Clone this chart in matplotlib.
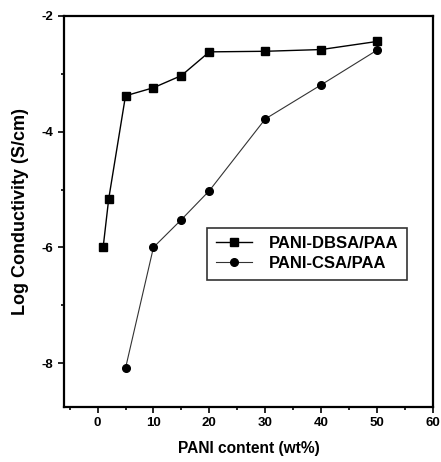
import numpy as np
import matplotlib.pyplot as plt
from matplotlib.ticker import MultipleLocator

# PANI content (wt%) and log conductivity
dbsa_x = [1, 2, 5, 10, 15, 20, 30, 40, 50]
dbsa_y = [-6.0, -5.16, -3.38, -3.24, -3.03, -2.62, -2.61, -2.58, -2.44]
csa_x = [5, 10, 15, 20, 30, 40, 50]
csa_y = [-8.09, -6.0, -5.52, -5.02, -3.78, -3.19, -2.59]

plt.rcParams['font.family'] = ['Liberation Sans', 'DejaVu Sans']
plt.rcParams['font.weight'] = 'bold'
plt.rcParams['axes.unicode_minus'] = False

fig = plt.figure(figsize=(4.41, 4.62), dpi=100)
ax = fig.add_axes([64 / 441, 55 / 462, 369 / 441, 391 / 462])

ax.plot(dbsa_x, dbsa_y, color='black', lw=1.0, marker='s', ms=5.5,
        label='PANI-DBSA/PAA')
ax.plot(csa_x, csa_y, color='#333333', lw=0.8, marker='o', ms=5.5,
        mfc='black', mec='black', label='PANI-CSA/PAA')

ax.set_xlim(-6, 60)
ax.set_ylim(-8.76, -2)
ax.xaxis.set_major_locator(MultipleLocator(10))
ax.xaxis.set_minor_locator(MultipleLocator(5))
ax.yaxis.set_major_locator(MultipleLocator(2))
ax.yaxis.set_minor_locator(MultipleLocator(1))
ax.tick_params(which='both', direction='out', width=1.2, labelsize=9.5,
               top=False, right=False)
ax.tick_params(which='major', length=4)
ax.tick_params(which='minor', length=2.5)
for s in ax.spines.values():
    s.set_linewidth(1.6)

ax.set_xlabel('PANI content (wt%)', fontsize=11.2, fontweight='bold', labelpad=8)
ax.set_ylabel('Log Conductivity (S/cm)', fontsize=13, fontweight='bold', labelpad=9)

leg = ax.legend(loc='upper left', bbox_to_anchor=(0.388, 0.458), fontsize=12,
                frameon=True, fancybox=False, edgecolor='black', handlelength=2.2,
                borderpad=0.5, labelspacing=0.3, handletextpad=1.0,
                borderaxespad=0)
leg.get_frame().set_linewidth(1.2)
for t in leg.get_texts():
    t.set_fontweight('bold')

fig.savefig('out.png', dpi=100)
